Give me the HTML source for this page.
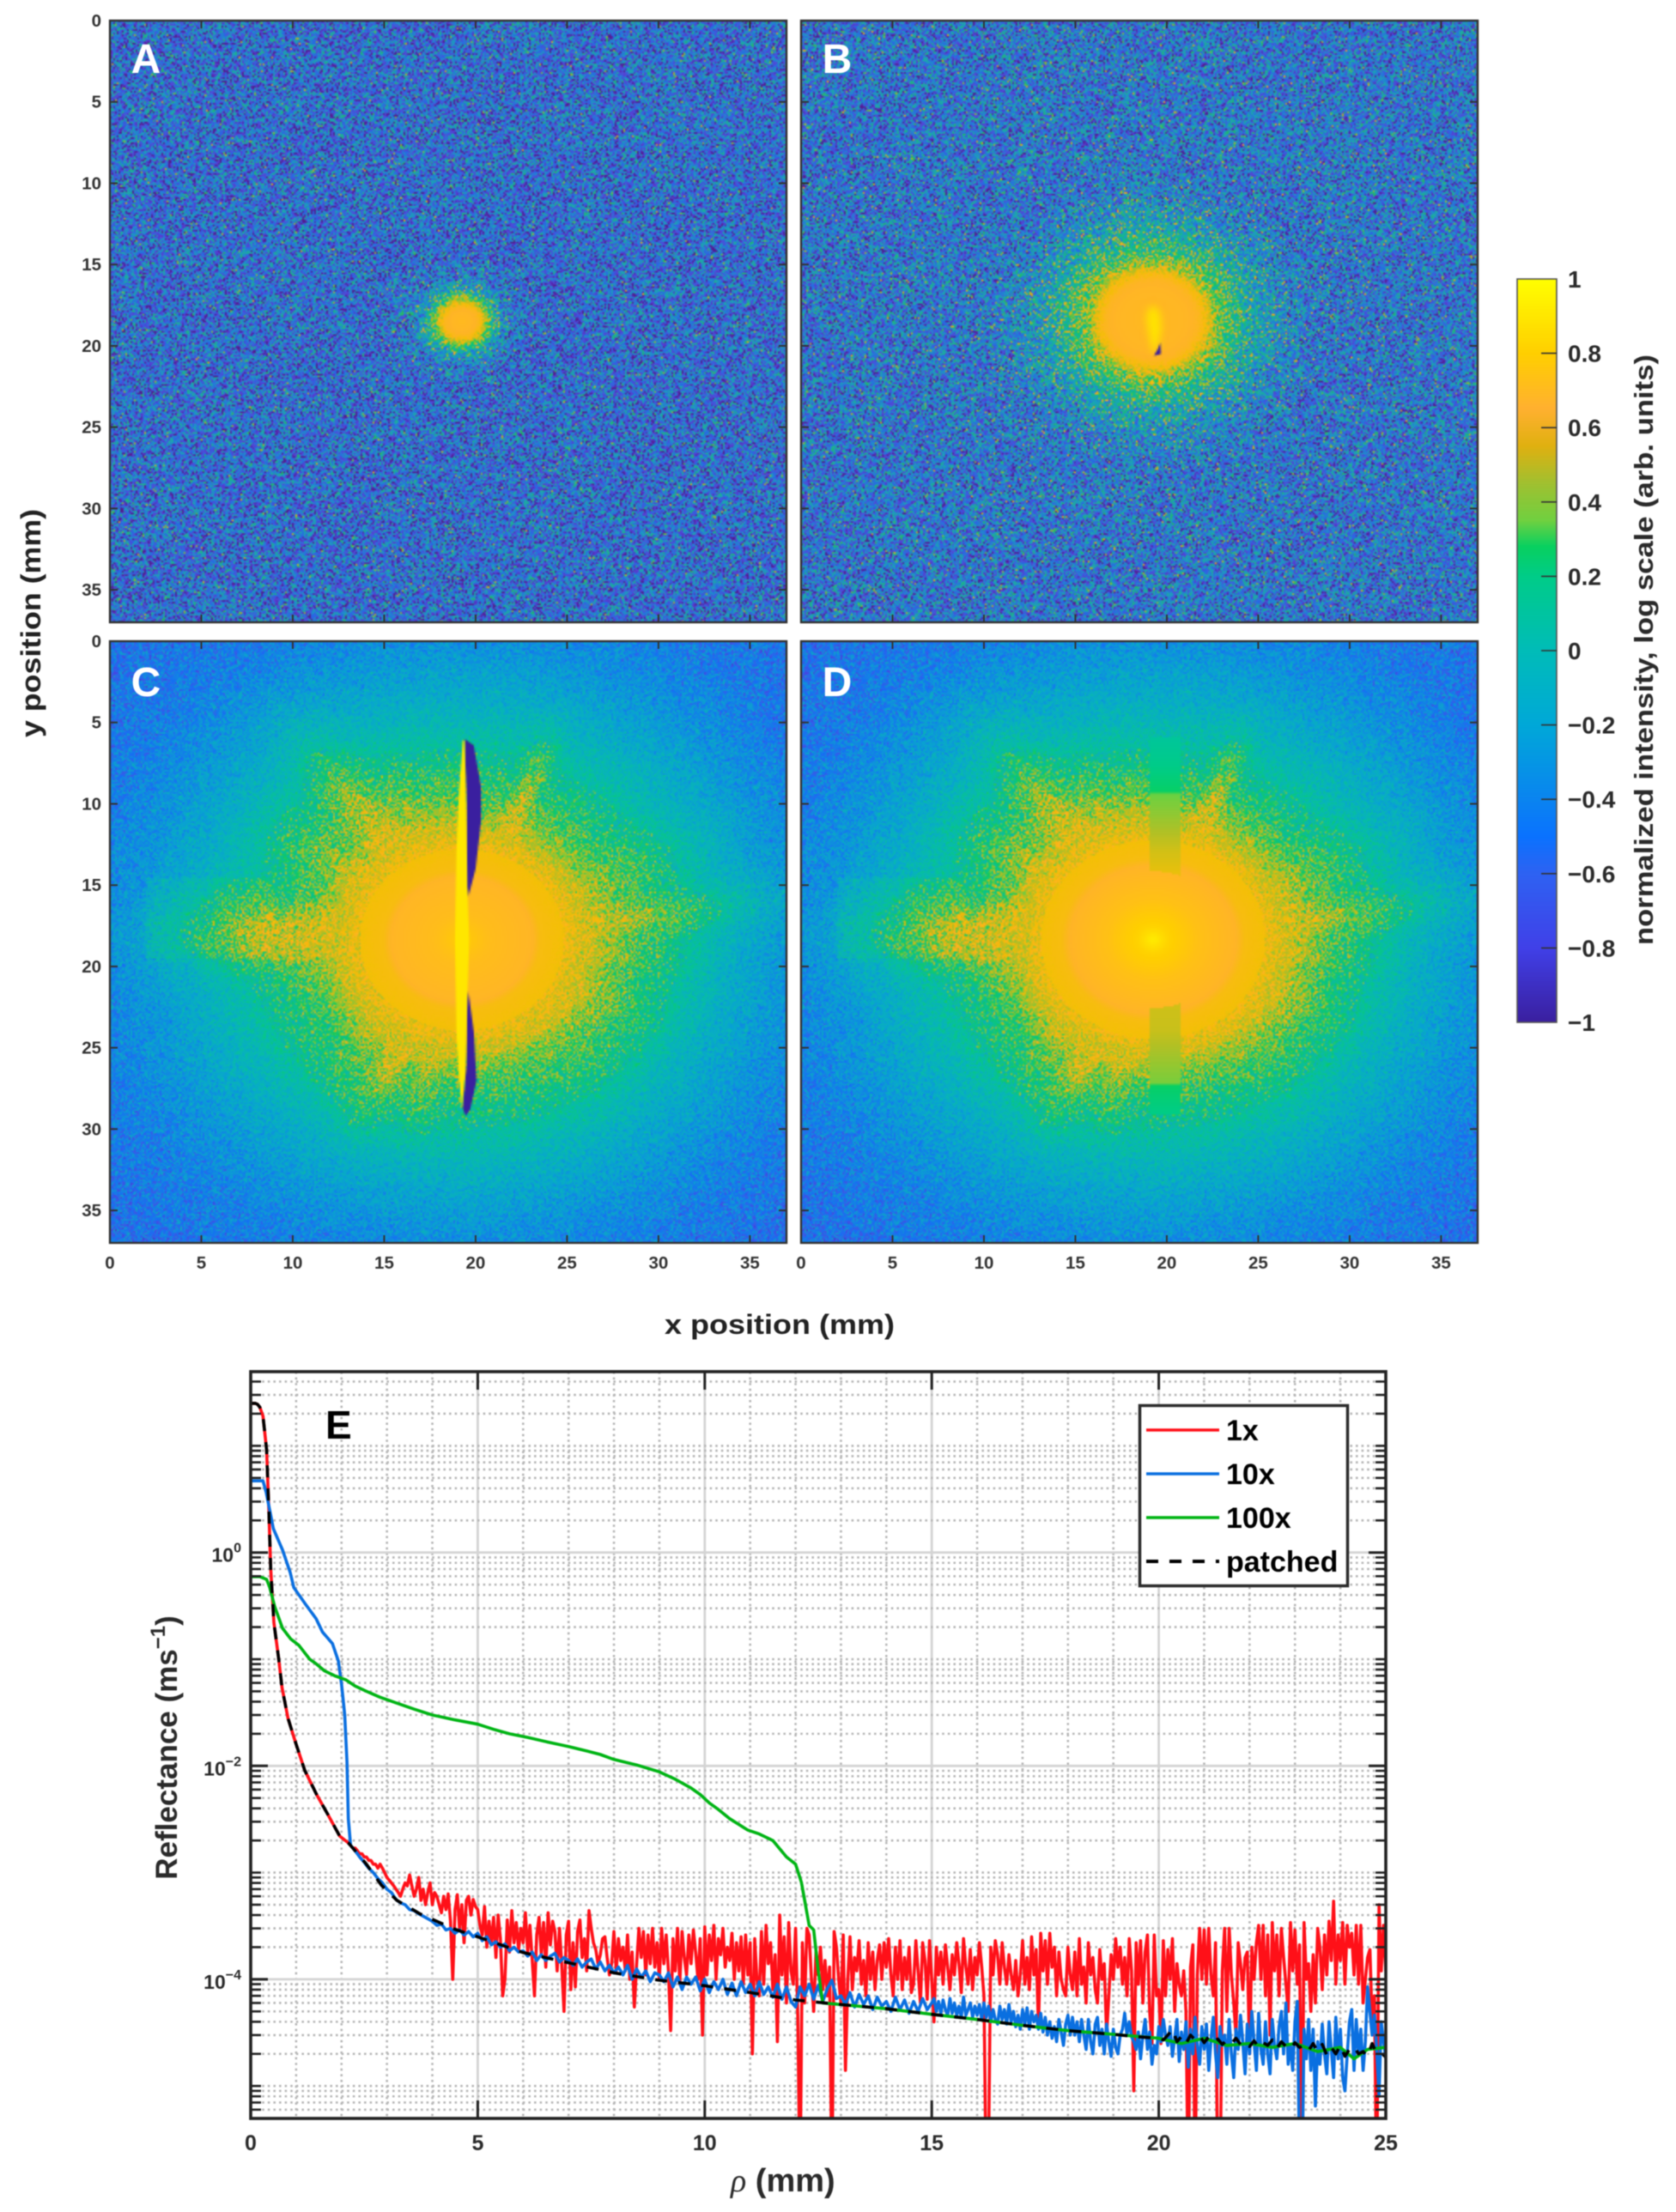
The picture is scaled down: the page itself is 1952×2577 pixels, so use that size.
<!DOCTYPE html>
<html lang="en"><head><meta charset="utf-8"><title>Reflectance images and radial profile</title>
<style>
html,body{margin:0;padding:0;background:#fff}
#page{position:relative;width:1952px;height:2577px;overflow:hidden;background:#fff;font-family:"Liberation Sans",sans-serif;filter:blur(0.55px)}
canvas{position:absolute;display:block}
svg{position:absolute;left:0;top:0}
text{font-family:"Liberation Sans",sans-serif}
</style></head>
<body>
<div id="page">
<canvas id="hmA" width="394" height="351" style="left:128px;top:24px;width:788px;height:701px"></canvas>
<canvas id="hmB" width="394" height="351" style="left:933px;top:24px;width:788px;height:701px"></canvas>
<canvas id="hmC" width="394" height="351" style="left:128px;top:747px;width:788px;height:701px"></canvas>
<canvas id="hmD" width="394" height="351" style="left:933px;top:747px;width:788px;height:701px"></canvas>
<canvas id="cbar" width="46" height="866" style="left:1767px;top:325px;width:46px;height:866px"></canvas>
<svg id="fig" width="1952" height="2577" viewBox="0 0 1952 2577">
<defs><clipPath id="plotClip"><rect x="292" y="1598" width="1322" height="870"/></clipPath></defs>
<g id="panelAxes"></g>
<g id="cbarAxes"></g>
<g id="gridE"></g>
<g id="linesE" clip-path="url(#plotClip)"></g>
<g id="axesE"></g>
<text x="170" y="85" text-anchor="middle" font-size="48" font-weight="700" fill="#fff">A</text>
<text x="975" y="85" text-anchor="middle" font-size="48" font-weight="700" fill="#fff">B</text>
<text x="170" y="811" text-anchor="middle" font-size="48" font-weight="700" fill="#fff">C</text>
<text x="975" y="811" text-anchor="middle" font-size="48" font-weight="700" fill="#fff">D</text>
<text x="908" y="1554" text-anchor="middle" font-size="32" font-weight="700" fill="#222" textLength="268" lengthAdjust="spacingAndGlyphs">x position (mm)</text>
<text transform="translate(47,726) rotate(-90)" text-anchor="middle" font-size="32" font-weight="700" fill="#222" textLength="266" lengthAdjust="spacingAndGlyphs">y position (mm)</text>
<text transform="translate(1925,757) rotate(-90)" text-anchor="middle" font-size="31" font-weight="700" fill="#2a2a2a" textLength="688" lengthAdjust="spacingAndGlyphs">normalized intensity, log scale (arb. units)</text>
<text x="379" y="1676" font-size="46" font-weight="700" fill="#000">E</text>
<text x="851" y="2553" font-size="38" font-weight="700" fill="#2a2a2a"><tspan font-style="italic" font-weight="400" font-family="Liberation Serif">ρ</tspan> (mm)</text>
<text transform="translate(206,2036) rotate(-90)" text-anchor="middle" font-size="35" font-weight="700" fill="#2a2a2a">Reflectance (ms<tspan dy="-14" font-size="24">−1</tspan><tspan dy="14">)</tspan></text>
<g>
<rect x="1327.5" y="1637.5" width="242" height="210" fill="#fff" stroke="#2b2b2b" stroke-width="3.5"/>
<line x1="1335" x2="1420" y1="1666" y2="1666" stroke="#ff1018" stroke-width="3.6"/>
<line x1="1335" x2="1420" y1="1717" y2="1717" stroke="#0a6fe0" stroke-width="3.6"/>
<line x1="1335" x2="1420" y1="1768" y2="1768" stroke="#00b414" stroke-width="3.6"/>
<line x1="1335" x2="1420" y1="1819" y2="1819" stroke="#000" stroke-width="4" stroke-dasharray="14 13"/>
<text x="1428" y="1678" font-size="34" font-weight="700" fill="#000">1x</text>
<text x="1428" y="1729" font-size="34" font-weight="700" fill="#000">10x</text>
<text x="1428" y="1780" font-size="34" font-weight="700" fill="#000">100x</text>
<text x="1428" y="1831" font-size="34" font-weight="700" fill="#000">patched</text>
</g>
</svg>
</div>
<script>
// ---------- colour scale ----------
const cmapValues=[-1,-0.8,-0.6,-0.5,-0.4,-0.2,0,0.2,0.28,0.35,0.45,0.55,0.65,0.8,1];
const cmapColors=['#3a1f9f','#4040e8','#2e62f2','#0a72ff','#0a84f0','#00a8d8','#00bcb8','#00cc88','#08d060','#70d040','#a0c030','#e0b010','#ffb030','#ffcf00','#ffff00'];
const heatColors=['#3a1f9f','#4040e8','#2e62f2','#0a72ff','#0a84f0','#00a8d8','#00bcb8','#00cc88','#08d060','#70d040','#b4c024','#f4c006','#ffb428','#ffcf00','#ffff00'];
const cbarTicks=[1,0.8,0.6,0.4,0.2,0,-0.2,-0.4,-0.6,-0.8,-1];
const imageTicks=[0,5,10,15,20,25,30,35];

// ---------- heatmap radial profiles (mm, log intensity, speckle amplitude) ----------
const radiusA=[0,0.6,0.9,1.2,1.55,2,2.8,4,40];
const meanA=[0.68,0.66,0.62,0.52,0.3,-0.05,-0.35,-0.46,-0.46];
const speckleA=[0,0,0.02,0.1,0.3,0.5,0.62,0.62,0.62];
const radiusB=[0,2,2.5,3,3.5,4.5,5.5,7,9,40];
const meanB=[0.68,0.66,0.63,0.55,0.42,0.2,0,-0.22,-0.38,-0.46];
const speckleB=[0,0,0.01,0.08,0.25,0.4,0.5,0.58,0.62,0.62];
const radiusC=[0,1.5,3.8,4.3,6,7,8,9,10,11,12,15,18,21,25,40];
const meanC=[0.78,0.7,0.66,0.58,0.54,0.47,0.36,0.27,0.2,0.14,0.08,-0.12,-0.28,-0.4,-0.47,-0.52];
const speckleC=[0,0,0,0,0.02,0.06,0.1,0.14,0.14,0.14,0.14,0.16,0.2,0.24,0.28,0.3];
const radiusD=[0,0.8,2.5,4.5,5,6.5,7.5,8.5,9.5,10.5,12,15,18,21,25,40];
const meanD=[0.92,0.82,0.72,0.655,0.58,0.54,0.46,0.35,0.25,0.17,0.08,-0.12,-0.28,-0.4,-0.47,-0.52];
const speckleD=[0,0,0,0,0,0.02,0.06,0.12,0.14,0.14,0.14,0.16,0.2,0.24,0.28,0.3];
// streaks: direction in degrees (y down), half-width in degrees, boost, reach in mm
const rayAngle=[181,174,189,117,130,103,45,25,235,215,250,265,291,352,5,335];
const rayWidth=[8,5,6,6,6,5,14,9,8,8,6,7,4,6,6,8];
const rayBoost=[0.25,0.1,0.1,0.28,0.14,0.16,0.08,0.1,0.24,0.12,0.1,0.1,0.26,0.2,0.1,0.1];
const rayReach=[21,16,17,15,13,14,13,14,20,16,14,12,16,24,15,19];
const stripY=[5.9,9.3,9.35,13,15,24,27.2,27.3,29.1];
const stripV=[0.12,0.27,0.34,0.5,0.55,0.48,0.36,0.27,0.2];
// mirror-edge shapes, points as x mm, y mm
const lensC=[19.3,6.1,19.1,9,18.95,13,18.87,18.4,18.95,24,19.1,27,19.25,28.8,19.45,26.5,19.55,22,19.65,18.4,19.55,15,19.5,10,19.4,6.1];
const shadowTopC=[19.4,6,19.9,6.4,20.3,9,20.3,11,20,14,19.6,15.7,19.52,15,19.5,10];
const shadowBottomC=[19.6,21.5,19.9,24,20.05,27,19.7,28.8,19.45,29.2,19.3,28.7,19.5,26,19.55,22];
const spindleB=[19.3,17.5,19.62,18,19.7,19,19.5,20.1,19.3,20.6,19.05,19.5,18.9,18.3,18.98,17.8];
const shadowB=[19.65,19.8,19.68,20.5,19.3,20.6,19.5,20.2];

// ---------- plot E series ----------
const rhoHead=[0,0.05,0.1,0.15,0.2,0.27,0.35,0.4,0.44,0.51,0.61,0.69,0.82,0.98,1.19,1.45,1.7,1.96,2.15];
const reflHead=[25,25,25,24.5,23,19,9.2,2.4,0.7,0.22,0.105,0.054,0.028,0.017,0.0091,0.0054,0.0035,0.0022,0.0019];
// 1x curve tail from rho=2.2 every 0.05 mm, units of 1e-4
const red1xStart=2.2, red1xStep=0.05;
const red1xTail=[18,17,17,16,15,15,14,14,13,13,12,12,11,12,11,10,
9,8.5,8,7.5,7,6.5,6,7,8,7.5,9.5,7.5,6,7,9,5.5,7,5,6.5,8,
5,6.5,6,5,4.2,6,4.5,6.3,3.5,1,4.5,6.2,3,5,2.2,5.5,6,4,5.6,4.8,
4.5,3.2,2.6,4.8,2,3.5,2.2,3.8,1.6,4,2.4,0.7,1,3.6,1.8,4.4,2.2,3.4,1.9,3,
2.2,4.2,1.8,3.2,1.5,0.7,2.6,3.8,1.7,3.4,1.3,4.2,2.1,3.5,2.8,1.2,3,1.4,0.5,2.6,
3.5,0.8,2.2,0.85,2.8,3.6,1.6,2.4,1.2,4.4,3,2.2,1.9,1.4,1.7,2.4,2.5,1.6,1.1,1.4,
2.8,1.2,2.4,1.5,2,1.2,2.6,1,1.8,0.55,1.4,3,1.6,2.8,1.1,2.6,1.4,3,1.3,2.2,
1,3,1.4,2.6,1.2,0.33,2.4,1.2,3,0.9,2.8,1.6,1.1,2.6,1.4,2.9,1.8,1,2.4,0.3,
3.1,1.1,2.6,1.5,3.2,1,2.4,1.7,3,1.3,2,1.5,2.7,1,2.2,1.2,2.5,0.9,2.6,1.1,
2.2,0.2,2.4,1,0.7,2.8,0.9,3.2,1.4,2.2,0.8,1.7,0.26,4,1.1,2.5,0.6,3.4,1.2,0.9,
3,0.45,0.01,2.2,0.6,3,2.6,1,0.5,1.8,1.1,2,0.8,1.5,0.7,1.3,0.01,2.8,2,1,
0.6,2.6,0.14,1,2.5,0.8,1.6,1.2,2.3,0.9,1.5,0.7,2.2,1,1.8,0.8,1.5,2.1,1,2.2,
1.3,2.4,1.1,0.7,2,1,2.3,0.8,1.6,1,2,0.75,0.9,2.3,1.2,0.6,2.2,1.5,0.65,2.3,
1,0.4,2,1.1,1.8,0.9,2.1,1.3,0.8,1.7,1.1,2.2,1.4,0.75,2.4,1.3,0.9,1.9,0.8,1.6,
1.1,2.2,1.3,0.7,0.01,0.02,2,1.1,2.3,1.7,0.9,2.2,1.3,0.9,1.7,1.1,0.8,1.5,0.7,1.1,
2.3,0.9,1.6,0.8,2.5,1.1,1.9,0.35,2.7,1.2,2.3,0.9,2.7,1.3,2,0.7,1.8,1,0.8,0.7,
2,1.1,0.8,1.8,0.7,2.4,0.9,1.3,0.6,2.2,1.1,1.6,0.8,0.6,1.9,1,1.4,0.3,0.7,1.7,
1,2.4,1.3,2,0.9,1.6,0.7,2.4,1.2,0.09,2.2,0.9,2.3,0.6,1.8,2.6,0.5,0.25,2.6,0.7,
0.8,0.25,2.3,0.7,1.9,1,2.4,0.5,1.4,0.9,0.7,1.2,0.5,0.01,1.3,2.1,0.01,1.1,3,1,
2.9,0.9,3,1.1,0.7,2.2,0.01,0.01,1.2,3,0.5,3,1.1,0.6,0.3,2.2,1.4,0.8,1.6,1.8,
0.2,2,1,2.2,3.2,1,3.2,0.7,2.6,0.3,3.4,1.2,2.6,0.7,3,1.6,0.9,0.5,3.4,1.2,
2.9,0.9,2.1,0.01,3.4,1,1.4,0.5,1.7,0.6,3,2,0.8,2.6,1.1,3.5,1.5,5.4,0.9,2.6,
1.5,3.4,0.9,3.2,2,2.7,1.1,3.2,0.9,3.2,0.6,1,1.6,1.9,0.4,0.7,0.01,5,1.2,3.2,
1.2];
const rho10xHead=[0,0.05,0.15,0.27,0.34,0.5,0.7,0.87,0.95,1.2,1.44,1.58,1.8,1.93,2,2.07,2.12,2.15];
const refl10xHead=[4.7,4.7,4.7,4.7,3.67,1.67,1.06,0.65,0.47,0.33,0.24,0.18,0.14,0.096,0.058,0.03,0.011,0.0032];
// 10x curve from rho=2.2 every 0.1 mm to 15, units of 1e-4
const blue10xMidStart=2.2, blue10xMidStep=0.1;
const blue10xMid=[18,16,14,12.5,11,10,8.8,8,
7,6.5,5.6,5.2,5,4.5,4.4,4.1,3.9,3.7,
3.5,3.2,3.3,2.9,3,2.7,2.9,2.6,2.8,2.5,
2.7,2.3,2.5,2.1,2.25,2,2.15,1.85,2,1.8,
1.85,1.65,1.8,1.5,1.7,1.5,1.65,1.75,1.45,1.6,
1.5,1.35,1.55,1.3,1.45,1.55,1.25,1.45,1.2,1.35,
1.15,1.3,1.1,1.35,1,1.25,1.05,1.2,0.95,1.15,
1.1,0.95,1.15,0.85,1.05,0.8,1.05,0.9,1.05,0.78,
1,0.75,0.95,0.8,1,0.72,0.92,0.7,0.95,0.75,
0.9,0.7,0.95,0.72,0.85,0.68,0.9,0.65,0.85,0.62,
0.55,0.85,0.7,0.9,0.65,0.88,0.62,0.82,0.98,0.66,
0.7,0.58,0.75,0.55,0.72,0.58,0.7,0.52,0.68,0.56,
0.62,0.5,0.68,0.52,0.64,0.48,0.62,0.5,0.66,0.52,
0.6];
// 10x curve from rho=15.05 every 0.05 mm to 25, units of 1e-4
const blue10xFarStart=15.05, blue10xFarStep=0.05;
const blue10xFar=[0.66,0.5,0.62,0.48,0.64,0.52,0.46,0.66,0.48,0.6,0.46,0.56,0.44,0.68,0.46,0.52,0.6,0.44,0.56,
0.46,0.58,0.42,0.6,0.44,0.56,0.4,0.52,0.42,0.38,0.56,0.42,0.52,0.38,0.58,0.4,0.5,0.36,0.46,0.34,
0.52,0.38,0.54,0.34,0.5,0.4,0.46,0.34,0.48,0.32,0.44,0.3,0.4,0.28,0.36,0.26,0.42,0.32,0.24,0.38,
0.46,0.3,0.44,0.3,0.4,0.26,0.42,0.3,0.22,0.42,0.26,0.2,0.38,0.44,0.24,0.34,0.2,0.38,0.26,0.19,
0.34,0.23,0.2,0.3,0.34,0.48,0.3,0.4,0.29,0.26,0.22,0.32,0.18,0.3,0.42,0.22,0.32,0.16,0.24,0.2,
0.36,0.26,0.42,0.3,0.24,0.36,0.19,0.28,0.42,0.17,0.32,0.22,0.4,0.15,0.34,0.2,0.44,0.24,0.16,0.36,
0.22,0.38,0.14,0.27,0.44,0.2,0.12,0.36,0.24,0.3,0.16,0.42,0.2,0.12,0.34,0.22,0.46,0.26,0.13,0.38,
0.2,0.5,0.26,0.14,0.48,0.22,0.16,0.4,0.2,0.13,0.42,0.24,0.18,0.36,0.5,0.2,0.6,0.16,0.24,0.14,
0.4,0.62,0.02,0.01,0.34,0.18,0.42,0.14,0.34,0.065,0.26,0.16,0.38,0.2,0.13,0.4,0.22,0.12,0.44,0.18,
0.34,0.12,0.09,0.2,0.4,0.52,0.14,0.42,0.2,0.34,0.14,0.26,0.85,0.5,0.3,0.46,0.22,0.08,0.4,0.26,
0.18];
const rho100x=[0,0.2,0.35,0.42,0.53,0.7,0.88,1.06,1.3,1.45,1.62,1.85,2.1,2.3,2.55,2.85,3.2,3.6,4,4.5,5,5.35,5.7,6.1,6.55,7,7.4,7.7,8,8.5,9,9.35,9.7,9.9,10.1,10.3,10.55,10.95,11.2,11.5,11.8,12,12.13,12.3,12.4,12.5,12.6,13,14,15,16,17,18,19,20,20.5,21,21.5,22,22.5,23,23.5,24,24.3,24.6,25];
const refl100x=[0.594,0.594,0.56,0.47,0.31,0.195,0.155,0.135,0.1,0.09,0.078,0.07,0.064,0.056,0.05,0.044,0.039,0.034,0.03,0.027,0.0246,0.022,0.02,0.0185,0.0167,0.0152,0.0138,0.0128,0.0115,0.0102,0.0088,0.0075,0.0062,0.0054,0.0045,0.0039,0.0032,0.0025,0.0023,0.002,0.0014,0.0012,0.00081,0.00032,0.00029,0.00012,0.00006,0.000058,0.000053,0.000047,0.000042,0.000037,0.000033,0.0000305,0.000028,0.000025,0.000028,0.000024,0.000025,0.000023,0.000025,0.000021,0.000023,0.000018,0.000022,0.000023];
const rhoPatchedMid=[2.2,2.55,2.88,3.22,3.73,4.49,5,6,7,8,9,10,11,12,13,14,15,16,17,17.5,18,19,19.5];
const reflPatchedMid=[0.0018,0.0012,0.00076,0.00055,0.00041,0.000295,0.00025,0.000178,0.000143,0.000115,0.000098,0.000087,0.000075,0.000064,0.000058,0.000053,0.000047,0.000042,0.000037,0.000035,0.000033,0.0000305,0.000029];
// patched curve from rho=20 every 0.1 mm, units of 1e-5
const patchedFarStart=20, patchedFarStep=0.1;
const patchedFar=[2.8,2.7,3,3.4,2.6,2.9,2.5,3,2.7,2.95,2.55,2.9,2.6,2.75,2.45,2.7,2.5,2.8,2.45,2.6,2.35,2.65,2.3,2.55,2.4,2.7,2.25,2.6,2.35,2.2,2.55,2.3,2.4,2.15,2.5,2.1,2.45,1.95,2.3,2.0,2.4,1.9,2.2,2.35,2.0,2.1,1.9,2.5,2.0,2.05,1.86];
const xTickValues=[0,5,10,15,20,25];
const xMajorGrid=[5,10,15,20];
const xMinorGrid=[1,2,3,4,6,7,8,9,11,12,13,14,16,17,18,19,21,22,23,24];
const yMajorExponents=[0,-2,-4];
const yDecadeExponents=[1,0,-1,-2,-3,-4,-5,-6];
const yMinorMultipliers=[1,2,3,4,5,6,7,8,9];

// ---------- helpers ----------
const NS='http://www.w3.org/2000/svg';
function make(tag,props,parent){const e=document.createElementNS(NS,tag);for(const k in props)e.setAttribute(k,props[k]);parent.appendChild(e);return e;}
function interp(xs,ys,x){if(x<=xs[0])return ys[0];for(let i=1;i<xs.length;i++){if(x<=xs[i]){const t=(x-xs[i-1])/(xs[i]-xs[i-1]);return ys[i-1]+t*(ys[i]-ys[i-1]);}}return ys[ys.length-1];}
function hex(c){return [parseInt(c.slice(1,3),16),parseInt(c.slice(3,5),16),parseInt(c.slice(5,7),16)];}
function buildLut(colors){
  const rgb=colors.map(hex),out=[];
  for(let i=0;i<=512;i++){const v=-1+2*i/512;let k=1;while(k<cmapValues.length-1&&v>cmapValues[k])k++;const t=(v-cmapValues[k-1])/(cmapValues[k]-cmapValues[k-1]);const a=rgb[k-1],b=rgb[k];out.push([a[0]+t*(b[0]-a[0]),a[1]+t*(b[1]-a[1]),a[2]+t*(b[2]-a[2])]);}
  return out;
}
const barLut=buildLut(cmapColors),heatLut=buildLut(heatColors);
function lookup(l,v){const i=Math.max(0,Math.min(512,Math.round((v+1)*256)));return l[i];}
function rgbStr(v){const c=lookup(barLut,v);return 'rgb('+Math.round(c[0])+','+Math.round(c[1])+','+Math.round(c[2])+')';}

// ---------- heatmaps ----------
const MM_W=37,MM_H=37;
function drawHeat(id,cfg){
  const cv=document.getElementById(id),ctx=cv.getContext('2d'),W=cv.width,H=cv.height;
  const img=ctx.createImageData(W,H),d=img.data;
  let s=cfg.seed>>>0;
  function rnd(){s=(s+0x6D2B79F5)>>>0;let t=s;t=Math.imul(t^(t>>>15),t|1);t^=t+Math.imul(t^(t>>>7),t|61);return((t^(t>>>14))>>>0)/4294967296;}
  for(let j=0;j<H;j++){for(let i=0;i<W;i++){
    const x=(i+0.5)/W*MM_W,y=(j+0.5)/H*MM_H,dx=x-cfg.cx,dy=y-cfg.cy,r=Math.sqrt(dx*dx+dy*dy);
    let v=interp(cfg.radius,cfg.mean,r),amp=interp(cfg.radius,cfg.speckle,r);
    if(cfg.rays&&r>5.5){
      const ang=(Math.atan2(dy,dx)*180/Math.PI+360)%360;let boost=0;
      for(let k=0;k<rayAngle.length;k++){
        let da=Math.abs(ang-rayAngle[k]);if(da>180)da=360-da;
        const fade=Math.max(0,1-r/rayReach[k]);
        boost+=rayBoost[k]*Math.exp(-(da*da)/(rayWidth[k]*rayWidth[k]))*Math.min(1,fade*2.2);
      }
      boost*=Math.min(1,(r-5.5)/4);
      if(x>2&&x<9&&y>14.5&&y<19.5)boost+=0.09;
      v=Math.min(Math.max(v,0.5),v+boost);
      if(v>0.1&&v<0.55)amp+=0.08;
    }
    if(cfg.strip&&x>19.05&&x<20.75&&y>5.9&&y<29.1){const sv=interp(stripY,stripV,y);if(r>4.2){v=sv;amp=0;}}
    const n=(rnd()+rnd()+rnd()-1.5)*1.15;
    const c=lookup(heatLut,v+n*amp),o=(j*W+i)*4,dim=1-Math.min(0.1,amp*0.16),lift=amp*48;
    d[o]=c[0]*dim+lift;d[o+1]=c[1]*dim;d[o+2]=c[2]*dim;d[o+3]=255;
  }}
  ctx.putImageData(img,0,0);
  (cfg.shapes||[]).forEach(function(sh){
    ctx.save();if(sh.soft)ctx.filter='blur(2px)';
    ctx.fillStyle=sh.color;ctx.beginPath();
    for(let p=0;p<sh.pts.length;p+=2){const px=sh.pts[p]/MM_W*W,py=sh.pts[p+1]/MM_H*H;if(p===0)ctx.moveTo(px,py);else ctx.lineTo(px,py);}
    ctx.closePath();ctx.fill();ctx.restore();
  });
}
drawHeat('hmA',{seed:11,cx:19.25,cy:18.5,radius:radiusA,mean:meanA,speckle:speckleA});
drawHeat('hmB',{seed:23,cx:19.2,cy:18.4,radius:radiusB,mean:meanB,speckle:speckleB,shapes:[{pts:spindleB,color:'#ffe400',soft:true},{pts:shadowB,color:'#3a1f9f'}]});
drawHeat('hmC',{seed:37,cx:19.25,cy:18.35,radius:radiusC,mean:meanC,speckle:speckleC,rays:true,shapes:[{pts:shadowTopC,color:'#3a1f9f'},{pts:shadowBottomC,color:'#3a1f9f'},{pts:lensC,color:'#ffe600'}]});
drawHeat('hmD',{seed:37,cx:19.25,cy:18.35,radius:radiusD,mean:meanD,speckle:speckleD,rays:true,strip:true});

// colorbar gradient
(function(){const c=document.getElementById('cbar'),x=c.getContext('2d');for(let j=0;j<c.height;j++){x.fillStyle=rgbStr(1-2*(j+0.5)/c.height);x.fillRect(0,j,c.width,1);}})();

// ---------- image panel axes ----------
const panelAxes=document.getElementById('panelAxes');
const panels=[{n:'a',l:128,t:24,yl:true,xl:false},{n:'b',l:933,t:24,yl:false,xl:false},{n:'c',l:128,t:747,yl:true,xl:true},{n:'d',l:933,t:747,yl:false,xl:true}];
const PW=788,PH=701;
panels.forEach(function(p){
  const sx=PW/37,sy=PH/37;
  const frame=make('rect',{x:p.l,y:p.t,width:PW,height:PH,fill:'none',stroke:'#333',"stroke-width":2.4},panelAxes);
  
  
  imageTicks.forEach(function(tv){
    if(tv>0){
      [[p.l+tv*sx,p.t,p.l+tv*sx,p.t+9],[p.l+tv*sx,p.t+PH,p.l+tv*sx,p.t+PH-9],[p.l,p.t+tv*sy,p.l+9,p.t+tv*sy],[p.l+PW,p.t+tv*sy,p.l+PW-9,p.t+tv*sy]].forEach(function(q){
        const tk=make('line',{x1:q[0],y1:q[1],x2:q[2],y2:q[3],stroke:'#333',"stroke-width":2},panelAxes);
        
        
      });
    }
    if(p.yl){
      const a=make('text',{x:p.l-10,y:p.t+tv*sy+7,"text-anchor":'end',"font-size":20.5,"font-weight":700,fill:'#333'},panelAxes);
      a.textContent=tv;
      
      
    }
    if(p.xl){
      const b=make('text',{x:p.l+tv*sx,y:p.t+PH+30,"text-anchor":'middle',"font-size":20.5,"font-weight":700,fill:'#333'},panelAxes);
      b.textContent=tv;
      
      
    }
  });
});

// ---------- colorbar axis ----------
const cbarAxes=document.getElementById('cbarAxes');
const cbY=function(v){return 325+(1-v)/2*866;};
const cbBox=make('rect',{x:1767,y:325,width:46,height:866,fill:'none',stroke:'#555',"stroke-width":1.6},cbarAxes);


cbarTicks.forEach(function(v){
  if(v!==1&&v!==-1){
    const tk=make('line',{x1:1795,x2:1813,y1:cbY(v),y2:cbY(v),stroke:'#333',"stroke-width":1.6},cbarAxes);
    
    
  }
  const t=make('text',{x:1826,y:cbY(v)+10,"font-size":28,"font-weight":700,fill:'#2a2a2a'},cbarAxes);
  t.textContent=String(v).replace('-','−');
  
  
});

// ---------- plot E ----------
const PL=292,PR=1614,PT=1598,PB=2468;
const xS=function(rho){return PL+rho*(PR-PL)/25;};
const yS=function(r){return 1808.7-124.3*Math.log10(r);};
const gridE=document.getElementById('gridE'),linesE=document.getElementById('linesE'),axesE=document.getElementById('axesE');
xMinorGrid.forEach(function(v){
  const g=make('line',{x1:xS(v),x2:xS(v),y1:PT,y2:PB,stroke:'#b8b8b8',"stroke-width":2.6,"stroke-dasharray":'2.6 4'},gridE);
  
  
});
xMajorGrid.forEach(function(v){
  const g=make('line',{x1:xS(v),x2:xS(v),y1:PT,y2:PB,stroke:'#d4d4d4',"stroke-width":2.8},gridE);
  
  
  [[PT,PT+21],[PB,PB-21]].forEach(function(q){
    const tk=make('line',{x1:xS(v),x2:xS(v),y1:q[0],y2:q[1],stroke:'#222',"stroke-width":3},axesE);
    
    
  });
});
yDecadeExponents.forEach(function(e){
  yMinorMultipliers.forEach(function(m){
    const val=m*Math.pow(10,e),y=yS(val);
    if(y<PT+1||y>PB-1)return;
    const major=(m===1&&yMajorExponents.indexOf(e)>=0);
    const g=make('line',{x1:PL,x2:PR,y1:y,y2:y,stroke:major?'#d4d4d4':'#b8b8b8',"stroke-width":major?2.8:2.6,"stroke-dasharray":major?'none':'2.6 4'},gridE);
    
    
    const len=major?20:12;
    [[PL,PL+len],[PR,PR-len]].forEach(function(q){
      const tk=make('line',{x1:q[0],x2:q[1],y1:y,y2:y,stroke:'#222',"stroke-width":major?3:2.6},axesE);
      
      
    });
  });
});
function series(xs,ys,color,width,name,dash){
  let dstr='';
  for(let i=0;i<xs.length;i++){dstr+=(i?'L':'M')+xS(xs[i]).toFixed(1)+' '+yS(Math.max(ys[i],1e-7)).toFixed(1);}
  const props={d:dstr,fill:'none',stroke:color,"stroke-width":width,"stroke-linejoin":'round'};
  if(dash)props["stroke-dasharray"]=dash;
  const path=make('path',props,linesE);
  
  
}
const xr=[],yr=[];
rhoHead.forEach(function(v,i){xr.push(v);yr.push(reflHead[i]);});
red1xTail.forEach(function(v,i){xr.push(red1xStart+i*red1xStep);yr.push(v*1e-4);});
const xb=[],yb=[];
rho10xHead.forEach(function(v,i){xb.push(v);yb.push(refl10xHead[i]);});
blue10xMid.forEach(function(v,i){xb.push(blue10xMidStart+i*blue10xMidStep);yb.push(v*1e-4);});
blue10xFar.forEach(function(v,i){xb.push(blue10xFarStart+i*blue10xFarStep);yb.push(v*1e-4);});
const xp=[],yp=[];
rhoHead.forEach(function(v,i){xp.push(v);yp.push(reflHead[i]);});
rhoPatchedMid.forEach(function(v,i){xp.push(v);yp.push(reflPatchedMid[i]);});
patchedFar.forEach(function(v,i){xp.push(patchedFarStart+i*patchedFarStep);yp.push(v*1e-5);});
series(xr,yr,'#ff1018',3.6,'series-1x');
series(xb,yb,'#0a6fe0',3.6,'series-10x');
series(rho100x,refl100x,'#00b414',3.6,'series-100x');
series(xp,yp,'#000','3.6','series-patched','14 13');
const frameE=make('rect',{x:PL,y:PT,width:PR-PL,height:PB-PT,fill:'none',stroke:'#222',"stroke-width":3.6},axesE);


xTickValues.forEach(function(v){
  const t=make('text',{x:xS(v),y:2505,"text-anchor":'middle',"font-size":25,"font-weight":700,fill:'#2a2a2a'},axesE);
  t.textContent=v;
  
  
});
yMajorExponents.forEach(function(e){
  const y=yS(Math.pow(10,e));
  const t=make('text',{x:281,y:y+11,"text-anchor":'end',"font-size":23,"font-weight":700,fill:'#2a2a2a'},axesE);
  
  
  const a=make('tspan',{},t);
  a.textContent='10';
  const b=make('tspan',{dy:-11,"font-size":16},t);
  b.textContent=String(e).replace('-','−');
});
</script>
</body></html>
